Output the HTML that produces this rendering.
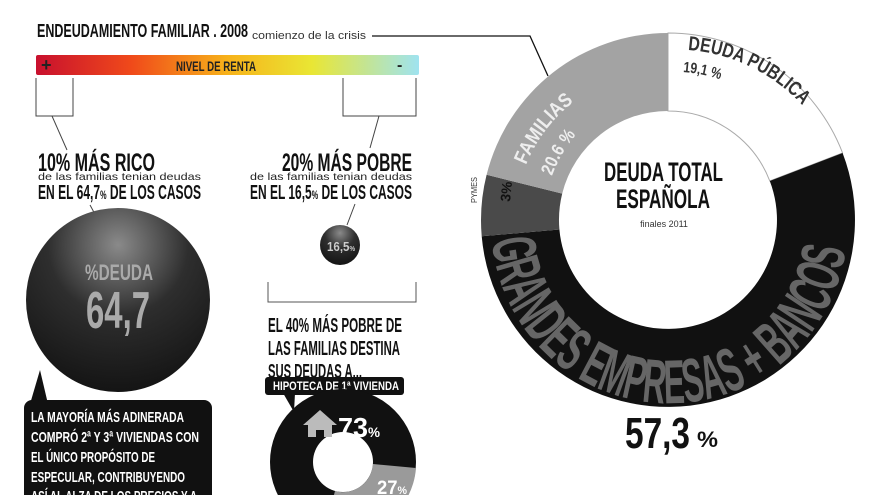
<!DOCTYPE html>
<html><head><meta charset="utf-8"><style>
html,body{margin:0;background:#fff;overflow:hidden;width:880px;height:495px;}
svg{display:block;overflow:hidden}
.c{font-family:"Liberation Sans",sans-serif;font-weight:bold;}
.r{font-family:"Liberation Sans",sans-serif;}
</style></head><body>
<svg width="880" height="495" viewBox="0 0 880 495" xmlns="http://www.w3.org/2000/svg">
<defs>
<linearGradient id="bar" x1="0" x2="1">
<stop offset="0" stop-color="#c8102e"/><stop offset="0.25" stop-color="#f04a1a"/>
<stop offset="0.5" stop-color="#f7b21a"/><stop offset="0.72" stop-color="#e9e634"/>
<stop offset="1" stop-color="#9fe3f0"/></linearGradient>
<radialGradient id="sph" cx="0.5" cy="0.2" r="0.85">
<stop offset="0" stop-color="#8a8a8a"/><stop offset="0.45" stop-color="#2e2e2e"/><stop offset="1" stop-color="#111"/></radialGradient>
<path id="pBig" d="M492,240 A178,178 0 1 0 843,186"/>
<path id="pFam" d="M526,165 A150,150 0 0 1 640,73"/>
<path id="pFam2" d="M552,176 A128,128 0 0 1 650,93"/>
<path id="pDP" d="M688,50 A172,172 0 0 1 838,165"/>
<path id="pDP2" d="M683,72 A150,150 0 0 1 760,100"/>
<clipPath id="cl"><rect x="0" y="0" width="880" height="495"/></clipPath>
</defs>
<g clip-path="url(#cl)">
<!-- header -->
<text x="37" y="37" class="c" font-size="18" fill="#111" textLength="211" lengthAdjust="spacingAndGlyphs">ENDEUDAMIENTO FAMILIAR . 2008</text>
<text x="252" y="39" class="r" font-size="11" fill="#333" textLength="114" lengthAdjust="spacingAndGlyphs">comienzo de la crisis</text>
<polyline points="372,36 530,36 548,76" fill="none" stroke="#111" stroke-width="1.3"/>

<rect x="36" y="55" width="383" height="20" rx="2" fill="url(#bar)"/>
<text x="41" y="71" class="c" font-size="18" fill="#222">+</text>
<text x="176" y="71" class="c" font-size="14" fill="#222" textLength="80" lengthAdjust="spacingAndGlyphs">NIVEL DE RENTA</text>
<text x="397" y="70" class="c" font-size="16" fill="#222">-</text>

<path d="M36,78 V116 H73 V78" fill="none" stroke="#444" stroke-width="1"/>
<line x1="52" y1="116" x2="67" y2="150" stroke="#444"/>
<path d="M343,78 V116 H416 V78" fill="none" stroke="#444" stroke-width="1"/>
<line x1="379" y1="116" x2="370" y2="148" stroke="#444"/>

<text x="38" y="171" class="c" font-size="25" fill="#111" textLength="117" lengthAdjust="spacingAndGlyphs">10% MÁS RICO</text>
<text x="38" y="180" class="r" font-size="10.5" fill="#222" textLength="163" lengthAdjust="spacingAndGlyphs">de las familias tenian deudas</text>
<text x="38" y="199" class="c" font-size="20" fill="#111" textLength="163" lengthAdjust="spacingAndGlyphs">EN EL 64,7<tspan font-size="12">%</tspan> DE LOS CASOS</text>
<text x="282" y="171" class="c" font-size="25" fill="#111" textLength="130" lengthAdjust="spacingAndGlyphs">20% MÁS POBRE</text>
<text x="250" y="180" class="r" font-size="10.5" fill="#222" textLength="162" lengthAdjust="spacingAndGlyphs">de las familias tenian deudas</text>
<text x="250" y="199" class="c" font-size="20" fill="#111" textLength="162" lengthAdjust="spacingAndGlyphs">EN EL 16,5<tspan font-size="12">%</tspan> DE LOS CASOS</text>

<line x1="90" y1="205" x2="96" y2="216" stroke="#444"/>
<circle cx="118" cy="300" r="92" fill="url(#sph)"/>
<text x="85" y="280" class="c" font-size="22" fill="#aaa" textLength="68" lengthAdjust="spacingAndGlyphs">%DEUDA</text>
<text x="86" y="328" class="c" font-size="52" fill="#aaa" textLength="64" lengthAdjust="spacingAndGlyphs">64,7</text>

<line x1="355" y1="204" x2="347" y2="225" stroke="#444"/>
<circle cx="340" cy="245" r="20" fill="url(#sph)"/>
<text x="327" y="251" class="c" font-size="13" fill="#ccc" textLength="28" lengthAdjust="spacingAndGlyphs">16,5<tspan font-size="7">%</tspan></text>

<path d="M268,282 V302 H416 V282" fill="none" stroke="#555"/>
<text x="268" y="332" class="c" font-size="20" fill="#111" textLength="134" lengthAdjust="spacingAndGlyphs">EL 40% MÁS POBRE DE</text>
<text x="268" y="355" class="c" font-size="20" fill="#111" textLength="132" lengthAdjust="spacingAndGlyphs">LAS FAMILIAS DESTINA</text>
<text x="268" y="378" class="c" font-size="20" fill="#111" textLength="94" lengthAdjust="spacingAndGlyphs">SUS DEUDAS A...</text>
<rect x="265" y="377" width="139" height="18" rx="3" fill="#111"/>
<polygon points="283,393 295,393 294,412" fill="#111"/>
<text x="273" y="390" class="c" font-size="12" fill="#fff" textLength="126" lengthAdjust="spacingAndGlyphs">HIPOTECA DE 1ª VIVIENDA</text>

<circle cx="343" cy="462" r="73" fill="#111"/>
<path d="M416,468 A73,73 0 0 1 324,533 L335,491 A30,30 0 0 0 373,464 Z" fill="#9a9a9a"/>
<circle cx="343" cy="462" r="30" fill="#fff"/>
<polygon points="320,410 303,425 308,425 308,437 316,437 316,430 324,430 324,437 332,437 332,425 337,425" fill="#bbb"/>
<text x="338" y="437" class="c" font-size="28" fill="#fff" textLength="42" lengthAdjust="spacingAndGlyphs">73<tspan font-size="14">%</tspan></text>
<text x="377" y="494" class="c" font-size="19" fill="#fff" textLength="30" lengthAdjust="spacingAndGlyphs">27<tspan font-size="11">%</tspan></text>

<polygon points="30,404 48,404 40,370" fill="#111"/>
<rect x="24" y="400" width="188" height="110" rx="8" fill="#111"/>
<g class="c" font-size="15" fill="#fff">
<text x="31" y="422" textLength="153" lengthAdjust="spacingAndGlyphs">LA MAYORÍA MÁS ADINERADA</text>
<text x="31" y="442" textLength="168" lengthAdjust="spacingAndGlyphs">COMPRÓ 2ª Y 3ª VIVIENDAS CON</text>
<text x="31" y="462" textLength="124" lengthAdjust="spacingAndGlyphs">EL ÚNICO PROPÓSITO DE</text>
<text x="31" y="482" textLength="154" lengthAdjust="spacingAndGlyphs">ESPECULAR, CONTRIBUYENDO</text>
<text x="31" y="501" textLength="166" lengthAdjust="spacingAndGlyphs">ASÍ AL ALZA DE LOS PRECIOS Y A</text>
</g>

<!-- big donut -->
<g transform="translate(668,220)">
<path d="M0,-187 A187,187 0 0 1 174.6,-67 L101.8,-39 A109,109 0 0 0 0,-109 Z" fill="#fff" stroke="#aaa" stroke-width="1"/>
<path d="M174.6,-67 A187,187 0 1 1 -186.3,16.3 L-108.6,9.5 A109,109 0 1 0 101.8,-39 Z" fill="#111"/>
<path d="M-186.3,16.3 A187,187 0 0 1 -181.4,-45.2 L-105.8,-26.4 A109,109 0 0 0 -108.6,9.5 Z" fill="#4a4a4a"/>
<path d="M-181.4,-45.2 A187,187 0 0 1 0,-187 L0,-109 A109,109 0 0 0 -105.8,-26.4 Z" fill="#a3a3a3"/>
</g>
<text class="c" font-size="62" fill="#666"><textPath href="#pBig" textLength="520" lengthAdjust="spacingAndGlyphs">GRANDES EMPRESAS + BANCOS</textPath></text>
<text class="c" font-size="20" fill="#eee"><textPath href="#pFam" textLength="80" lengthAdjust="spacingAndGlyphs">FAMILIAS</textPath></text>
<text class="c" font-size="18" fill="#eee"><textPath href="#pFam2" textLength="48" lengthAdjust="spacingAndGlyphs">20.6 %</textPath></text>
<text class="c" font-size="20" fill="#333"><textPath href="#pDP" textLength="130" lengthAdjust="spacingAndGlyphs">DEUDA PÚBLICA</textPath></text>
<text class="c" font-size="15" fill="#333"><textPath href="#pDP2" textLength="38" lengthAdjust="spacingAndGlyphs">19,1 %</textPath></text>
<text class="c" font-size="14" fill="#111" transform="translate(510,202) rotate(-84)" textLength="20" lengthAdjust="spacingAndGlyphs">3%</text>
<text class="r" font-size="8" fill="#333" transform="translate(477,203) rotate(-90)" textLength="26" lengthAdjust="spacingAndGlyphs">PYMES</text>

<text x="604" y="181" class="c" font-size="27" fill="#111" textLength="119" lengthAdjust="spacingAndGlyphs">DEUDA TOTAL</text>
<text x="616" y="208" class="c" font-size="27" fill="#111" textLength="94" lengthAdjust="spacingAndGlyphs">ESPAÑOLA</text>
<text x="664" y="227" class="r" font-size="9" fill="#333" text-anchor="middle">finales 2011</text>

<text x="625" y="448" class="c" font-size="44" fill="#111" textLength="65" lengthAdjust="spacingAndGlyphs">57,3</text>
<text x="697" y="447" class="c" font-size="22" fill="#111" textLength="21" lengthAdjust="spacingAndGlyphs">%</text>
</g>
</svg>
</body></html>
